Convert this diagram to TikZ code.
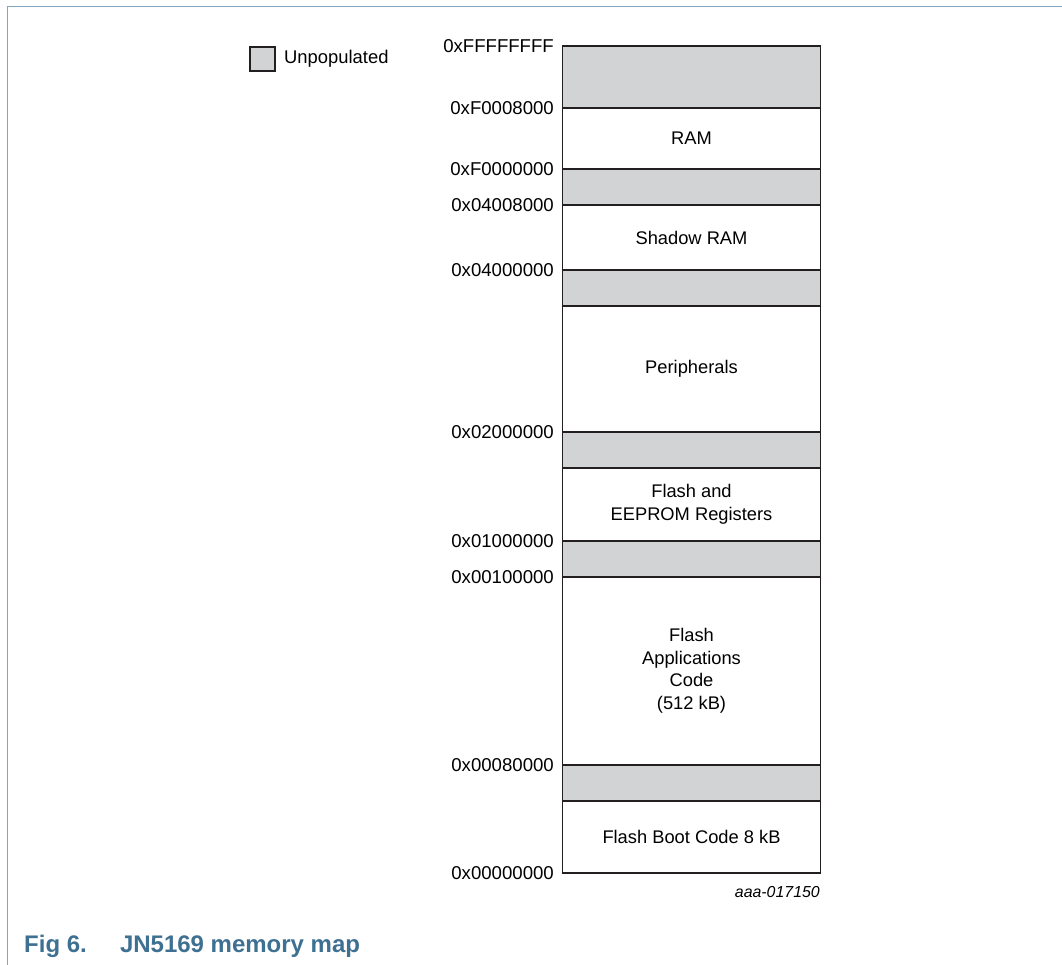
\documentclass[tikz,border=0pt]{standalone}
\usepackage{fontspec}
\setmainfont{Liberation Sans}
\definecolor{frameblue}{RGB}{130,166,192}
\definecolor{capblue}{RGB}{62,112,146}
\definecolor{unpop}{RGB}{210,211,213}
\definecolor{linegray}{RGB}{35,31,32}
\begin{document}
\begin{tikzpicture}[x=1pt,y=-1pt,
  addr/.style={anchor=east,inner sep=0pt,font=\fontsize{18.6}{22.5}\selectfont},
  region/.style={draw=linegray,line width=1.8pt},
  gap/.style={region,fill=unpop},
  rtext/.style={align=center,inner sep=0pt,font=\fontsize{18.3}{22.5}\selectfont},
  captext/.style={anchor=base west,inner sep=0pt,text=capblue,font=\fontsize{24}{26}\selectfont\bfseries}]
\useasboundingbox (0,0) rectangle (1062,965);
% frame
\draw[frameblue,line width=1.5pt] (7.5,965) -- (7.5,6.5) -- (1062,6.5);
% legend
\node[draw=linegray,line width=1.2pt,fill=unpop,minimum width=25pt,minimum height=24pt,inner sep=0pt] (leg) at (262.5,59) {};
\node[anchor=west,inner sep=0pt,font=\fontsize{18.4}{22.5}\selectfont] (legt) at (284,59) {Unpopulated};
% regions (pixel y values)
\def\L{562.5}\def\R{820.5}
\draw[gap] (\L,46) rectangle (\R,108);
\draw[region] (\L,108) rectangle (\R,169);
\draw[gap] (\L,169) rectangle (\R,205);
\draw[region] (\L,205) rectangle (\R,270);
\draw[gap] (\L,270) rectangle (\R,306);
\draw[region] (\L,306) rectangle (\R,432);
\draw[gap] (\L,432) rectangle (\R,468);
\draw[region] (\L,468) rectangle (\R,541);
\draw[gap] (\L,541) rectangle (\R,577);
\draw[region] (\L,577) rectangle (\R,765);
\draw[gap] (\L,765) rectangle (\R,801);
\draw[region] (\L,801) rectangle (\R,873);
% region texts
\node[rtext] (ram) at (691.5,138.5) {RAM};
\node[rtext] (sram) at (691.5,237.5) {Shadow RAM};
\node[rtext] (per) at (691.5,369) {Peripherals};
\node[rtext] (fee) at (691.5,504.5) {Flash and\\EEPROM Registers};
\node[rtext] (fac) at (691.5,671) {Flash\\Applications\\Code\\(512 kB)};
\node[rtext] (fbc) at (691.5,837) {Flash Boot Code 8 kB};
% address labels
\node[addr] (a1) at (554,46) {0xFFFFFFFF};
\node[addr] (a2) at (554,108) {0xF0008000};
\node[addr] (a3) at (554,169) {0xF0000000};
\node[addr] (a4) at (554,205) {0x04008000};
\node[addr] (a5) at (554,270) {0x04000000};
\node[addr] (a6) at (554,432) {0x02000000};
\node[addr] (a7) at (554,541) {0x01000000};
\node[addr] (a8) at (554,577) {0x00100000};
\node[addr] (a9) at (554,765) {0x00080000};
\node[addr] (a10) at (554,873) {0x00000000};
% figure id
\node[anchor=east,inner sep=0pt,font=\fontsize{15.9}{18}\selectfont\itshape] (fid) at (820,892) {aaa-017150};
% caption
\node[captext] (cap1) at (24,952) {Fig 6.};
\node[captext] (cap2) at (119.8,952) {JN5169 memory map};
\end{tikzpicture}
\end{document}
